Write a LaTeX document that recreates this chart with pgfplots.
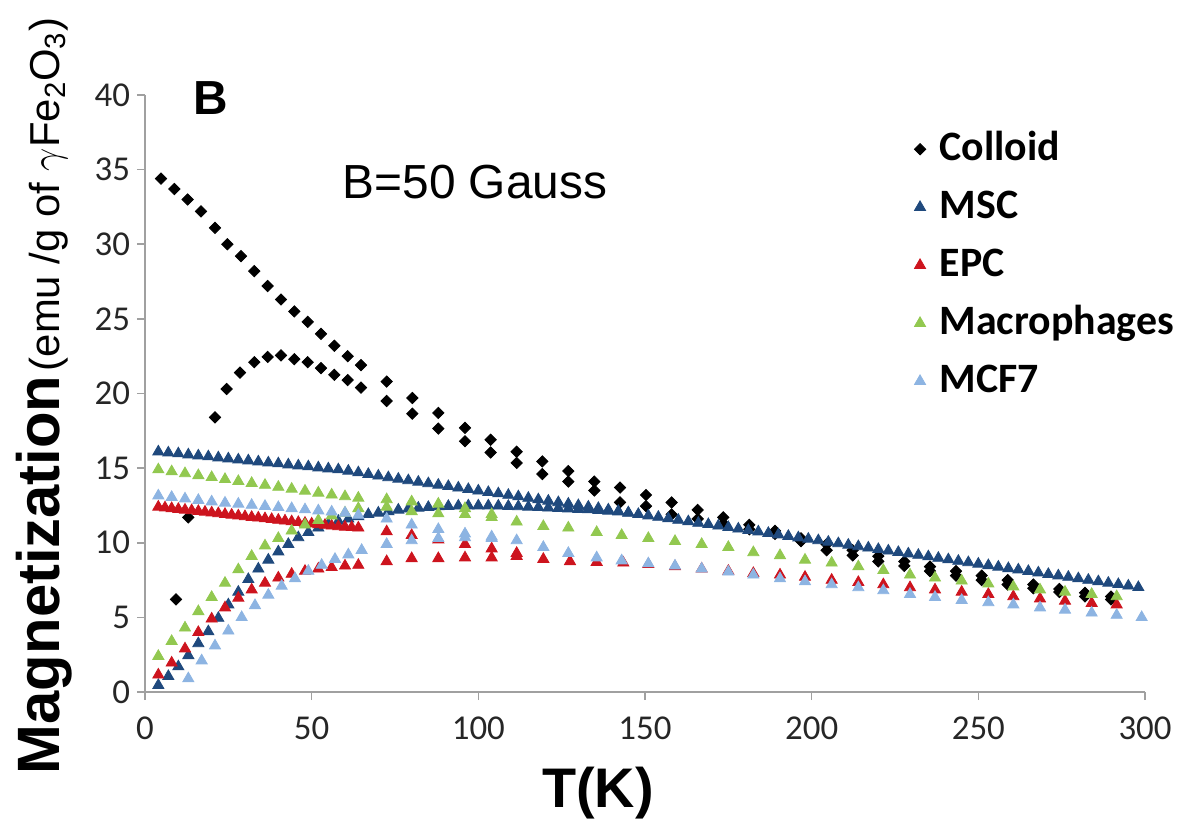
\documentclass[border=0pt]{standalone}
\usepackage{fontspec}
\setmainfont{Carlito}
\newfontfamily\arial{Liberation Sans}
\usepackage{pgfplots}
\usepackage{pgfplotstable}
\pgfplotsset{compat=1.18}

\definecolor{mscblue}{RGB}{31,73,125}
\definecolor{epcred}{RGB}{205,20,30}
\definecolor{macgreen}{RGB}{146,200,80}
\definecolor{mcflight}{RGB}{141,180,226}
\definecolor{axisgray}{RGB}{160,160,160}

% Colloid: field-cooled and zero-field-cooled branches
\pgfplotstableread{
T M
4.8 34.4
8.8 33.7
12.8 33.0
16.8 32.2
21 31.1
24.7 30.0
28.8 29.2
32.8 28.2
36.8 27.2
40.8 26.3
44.8 25.5
48.8 24.8
52.8 24.0
56.8 23.2
60.8 22.5
64.8 21.9
72.5 20.8
80.2 19.7
88 18.7
96 17.7
103.7 16.9
111.5 16.1
119.2 15.45
127 14.8
134.8 14.1
142.5 13.7
150.3 13.2
158 12.7
165.8 12.2
173.5 11.7
181.3 11.2
189 10.8
196.8 10.3
204.5 9.9
212.3 9.5
220 9.1
227.8 8.75
235.5 8.4
243.3 8.1
251 7.8
258.8 7.5
266.5 7.2
274.3 6.9
282 6.65
289.8 6.4
9.3 6.2
13 11.7
21 18.4
24.5 20.3
28.5 21.4
32.8 22.1
36.8 22.45
40.8 22.55
44.8 22.3
48.8 22.1
52.8 21.7
56.8 21.25
60.8 20.9
64.8 20.4
72.5 19.5
80.2 18.65
88 17.65
96 16.8
103.7 16.05
111.5 15.35
119.2 14.6
127 14.1
134.8 13.5
142.5 12.7
150.3 12.45
158 11.9
165.8 11.6
173.5 11.3
181.3 10.9
189 10.6
196.8 10.1
204.5 9.5
212.3 9.15
220 8.75
227.8 8.45
235.5 8.1
243.3 7.8
251 7.5
258.8 7.2
266.5 6.95
274.3 6.7
282 6.4
289.8 6.2
}\colloid

% MSC
\pgfplotstableread{
T M
4 16.10
7 16.03
10 15.97
13 15.90
16 15.83
19 15.77
22 15.70
25 15.63
28 15.56
31 15.50
34 15.43
37 15.36
40 15.30
43 15.23
46 15.16
49 15.10
52 15.03
55 14.96
58 14.90
61 14.81
64 14.70
67 14.59
70 14.48
73 14.37
76 14.27
79 14.17
82 14.07
85 13.97
88 13.87
91 13.78
94 13.68
97 13.58
100 13.48
103 13.38
106 13.29
109 13.19
112 13.09
115 12.99
118 12.89
121 12.80
124 12.70
127 12.60
130 12.50
133 12.40
136 12.31
139 12.21
142 12.11
145 12.01
148 11.91
151 11.81
154 11.72
157 11.62
160 11.52
163 11.42
166 11.32
169 11.23
172 11.13
175 11.03
178 10.93
181 10.83
184 10.74
187 10.64
190 10.54
193 10.44
196 10.34
199 10.25
202 10.15
205 10.05
208 9.95
211 9.85
214 9.75
217 9.66
220 9.56
223 9.46
226 9.36
229 9.26
232 9.17
235 9.07
238 8.97
241 8.87
244 8.77
247 8.68
250 8.58
253 8.48
256 8.38
259 8.28
262 8.19
265 8.09
268 7.99
271 7.89
274 7.79
277 7.70
280 7.60
283 7.50
286 7.40
289 7.30
292 7.21
295 7.11
298 7.01
4 0.45
7 1.05
10 1.70
13 2.45
16 3.25
19 4.05
22 4.95
25 5.85
28 6.70
31 7.55
34 8.25
37 8.85
40 9.40
43 9.90
46 10.35
49 10.70
52 11.00
55 11.25
58 11.45
61 11.60
64 11.75
67 11.90
70 12.00
73 12.10
76 12.20
79 12.27
82 12.33
85 12.38
88 12.42
91 12.45
94 12.47
97 12.48
100 12.48
103 12.48
106 12.47
109 12.45
112 12.43
115 12.40
118 12.37
121 12.34
124 12.31
127 12.28
130 12.25
133 12.22
136 12.17
139 12.13
142 12.08
145 12.00
}\msc

% EPC
\pgfplotstableread{
T M
4 12.40
6 12.35
8 12.30
10 12.25
12 12.20
14 12.16
16 12.11
18 12.06
20 12.01
22 11.96
24 11.91
26 11.86
28 11.81
30 11.76
32 11.71
34 11.67
36 11.62
38 11.57
40 11.52
42 11.47
44 11.42
46 11.37
48 11.32
50 11.27
52 11.22
54 11.18
56 11.13
58 11.09
60 11.06
62 11.03
64 11.00
72.5 10.75
80 10.5
88 10.2
96 9.9
104 9.6
111.5 9.3
4 1.15
8 1.95
12 2.9
16 4.0
20 4.9
24 5.65
28 6.3
32 6.85
36 7.3
40 7.65
44 7.9
48 8.1
52 8.25
56 8.35
60 8.45
64 8.5
72.5 8.75
80 8.95
88 8.95
96 9.0
104 9.0
111.5 9.1
119.5 8.9
127.5 8.75
135.5 8.7
143.5 8.65
151 8.55
159 8.4
167 8.25
175 8.1
182.5 7.95
190.5 7.85
198 7.7
206 7.5
214 7.35
221.5 7.2
229.5 7.0
237 6.85
245 6.7
253 6.55
260.5 6.4
268.5 6.25
276 6.1
284 5.95
291.5 5.85
}\epc

% Macrophages
\pgfplotstableread{
T M
4 14.9
8 14.77
12 14.64
16 14.51
20 14.38
24 14.25
28 14.12
32 13.99
36 13.86
40 13.73
44 13.6
48 13.47
52 13.34
56 13.21
60 13.1
64 13.0
72.5 12.9
80 12.75
88 12.6
96 12.3
104 11.9
4 2.4
8 3.4
12 4.3
16 5.4
20 6.35
24 7.3
28 8.2
32 9.1
36 9.8
40 10.3
44 10.8
48 11.2
52 11.5
56 11.8
60 12.0
64 12.3
72.5 12.4
80 12.1
88 11.95
96 11.9
104 11.7
111.5 11.4
119.5 11.1
127 11.0
135.5 10.7
143 10.5
151 10.3
159 10.1
167 9.9
175 9.7
182.5 9.35
190.5 9.15
198 8.85
206 8.65
214 8.4
221.5 8.15
229.5 7.85
237 7.65
245 7.45
253 7.25
260.5 7.05
268.5 6.85
276 6.7
284 6.55
291.5 6.4
}\macro

% MCF7
\pgfplotstableread{
T M
4 13.15
8 13.05
12 12.95
16 12.85
20 12.75
24 12.67
28 12.6
32 12.52
36 12.45
40 12.37
44 12.3
48 12.22
52 12.15
56 12.07
60 12.0
64 11.85
72.5 11.6
80 11.2
88 10.9
96 10.6
104 10.4
13 0.9
17 2.1
21 3.1
25 4.1
29 5.0
33 5.8
37 6.5
41 7.1
45 7.6
49 8.1
53 8.5
57 8.9
61 9.2
65 9.5
72.5 9.9
80 10.15
88 10.3
96 10.35
104 10.3
111.5 10.15
119.5 9.7
127 9.3
135.5 9.0
143 8.8
151 8.6
159 8.45
167 8.25
175 8.05
182.5 7.85
190.5 7.6
198 7.4
206 7.2
214 7.0
221.5 6.8
229.5 6.55
237 6.35
245 6.15
253 6.0
260.5 5.85
268.5 5.65
276 5.5
284 5.3
291.5 5.15
299 5.0
}\mcf

\begin{document}
\begin{tikzpicture}
\path[use as bounding box] (-72.5bp,-63.5bp) rectangle (517.5bp,346bp);
\begin{axis}[
  scale only axis,
  width=500bp, height=298.5bp,
  xmin=0, xmax=300, ymin=0, ymax=40,
  axis x line*=bottom, axis y line*=left,
  axis line style={axisgray, line width=1bp},
  xtick={0,50,...,300}, ytick={0,5,...,40},
  tick align=outside, major tick length=4bp,
  tick style={axisgray, line width=0.8bp},
  tick label style={font=\fontsize{17.5}{20}\selectfont, text=black!85},
  /pgf/number format/assume math mode=true,
  xticklabel style={yshift=-5bp},
  clip=false,
  legend cell align=left,
  legend image code/.code={\draw[mark repeat=2,mark phase=2,#1] plot coordinates {(0cm,0cm) (0.2cm,0cm) (0.4cm,0cm)};},
  legend style={at={(rel axis cs:0.763,0.955)}, anchor=north west, draw=none, fill=none,
    font=\bfseries\fontsize{21}{25}\selectfont, row sep=6bp,
    nodes={inner sep=2bp, text height=15bp, text depth=4bp},
    /tikz/every odd column/.append style={column sep=5bp}},
]
\addplot[only marks, mark=square*, mark size=2bp, mark options={rotate=45, fill=black, draw=black}] table[x=T, y=M] {\colloid};
\addlegendentry{Colloid}
\addplot[only marks, mark=triangle*, mark size=3.2bp, mark options={fill=mscblue, draw=mscblue}] table[x=T, y=M] {\msc};
\addlegendentry{MSC}
\addplot[only marks, mark=triangle*, mark size=3.2bp, mark options={fill=epcred, draw=epcred}] table[x=T, y=M] {\epc};
\addlegendentry{EPC}
\addplot[only marks, mark=triangle*, mark size=3.2bp, mark options={fill=macgreen, draw=macgreen}] table[x=T, y=M] {\macro};
\addlegendentry{Macrophages}
\addplot[only marks, mark=triangle*, mark size=3.2bp, mark options={fill=mcflight, draw=mcflight}] table[x=T, y=M] {\mcf};
\addlegendentry{MCF7}
\end{axis}
% panel letter, field annotation and axis titles
\node[font=\arial\bfseries\fontsize{24}{28}\selectfont] at (33bp,297bp) {B};
\node[font=\arial\fontsize{24}{28}\selectfont] at (165bp,255bp) {B=50 Gauss};
\node[font=\arial\bfseries\fontsize{28}{32}\selectfont, anchor=base] at (226.5bp,-57.5bp) {T(K)};
\node[rotate=90, anchor=center] at (-50.5bp,148bp)
  {{\arial\bfseries\fontsize{30}{34}\selectfont Magnetization}\ {\arial\fontsize{21}{24}\selectfont (emu /g of $\gamma$Fe\textsubscript{2}O\textsubscript{3})}};
\end{tikzpicture}
\end{document}
